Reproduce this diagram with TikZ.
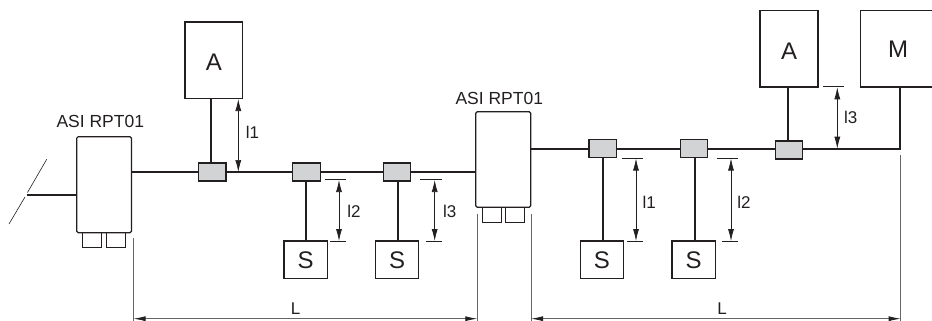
\documentclass[tikz,border=0pt]{standalone}
\usepackage{fontspec}
\setmainfont{Liberation Sans}
\usetikzlibrary{arrows.meta}
\definecolor{ink}{HTML}{231F20}
\definecolor{conn}{HTML}{D1D3D4}
\definecolor{dimc}{HTML}{666666}
\tikzset{
  x=1pt,y=-1pt,
  every node/.style={inner sep=0pt,outer sep=0pt,text=ink},
  bus/.style={draw=ink,line width=2pt},
  devbox/.style={draw=ink,line width=1.2pt,fill=white},
  rpt/.style={draw=ink,line width=1.2pt,fill=white,rounded corners=1.5pt},
  portbox/.style={draw=ink,line width=1pt,fill=white,minimum width=19.2pt,minimum height=15.2pt,anchor=north west},
  tee/.style={draw=ink,line width=1.2pt,fill=conn,minimum width=27.5pt,minimum height=18pt,anchor=north west},
  tick/.style={draw=ink,line width=0.6pt},
  ext/.style={draw=dimc,line width=0.8pt},
  dimarrow/.style={draw=ink,line width=0.7pt,{Latex[length=12pt,width=6pt,color=ink]}-{Latex[length=12pt,width=6pt,color=ink]}},
  longdim/.style={draw=dimc,line width=0.8pt,{Latex[length=12pt,width=5pt,color=ink]}-{Latex[length=12pt,width=5pt,color=ink]}},
  big/.style={font=\fontsize{24}{24}\selectfont},
  mid/.style={font=\fontsize{17.5}{18}\selectfont},
  lab/.style={font=\fontsize{17}{18}\selectfont},
}
\begin{document}
\begin{tikzpicture}
\useasboundingbox (0,0) rectangle (932,321);
% repeaters and their ports
\node[portbox] (p1) at (82.7,232.7) {};
\node[portbox] (p2) at (106.7,232.7) {};
\node[portbox] (p3) at (482,207.3) {};
\node[portbox] (p4) at (505.7,207.3) {};
\node[rpt,minimum width=54.8pt,minimum height=96pt,anchor=north west] (rptA) at (76.7,136.7) {};
\node[rpt,minimum width=55pt,minimum height=95.6pt,anchor=north west] (rptB) at (475.7,111.7) {};
\node[mid] (nameA) at (100.3,121.7) {ASI RPT01};
\node[mid] (nameB) at (499.3,98.3) {ASI RPT01};
% tees
\node[tee] (t1) at (198.5,163) {};
\node[tee] (t2) at (292.7,163) {};
\node[tee] (t3) at (383.3,163) {};
\node[tee] (t4) at (589,139.7) {};
\node[tee] (t5) at (680.3,139.7) {};
\node[tee] (t6) at (775.3,141) {};
% devices
\node[devbox,big,text height=21.5pt,minimum width=57.7pt,minimum height=76.5pt] (a1) at (213.8,60.2) {A};
\node[devbox,big,text height=21.5pt,minimum width=58pt,minimum height=76.3pt] (a2) at (789,48.8) {A};
\node[devbox,big,minimum width=43.3pt,minimum height=37.7pt] (s1) at (305.7,259.9) {S};
\node[devbox,big,minimum width=43pt,minimum height=37.7pt] (s2) at (397.2,259.9) {S};
\node[devbox,big,minimum width=43pt,minimum height=37.7pt] (s3) at (601.8,259.9) {S};
\node[devbox,big,minimum width=43.3pt,minimum height=37.7pt] (s4) at (693.6,259.9) {S};
\node[devbox,big,minimum width=75pt,minimum height=76.3pt] (m) at (898.2,48.8) {M};
% free ends
\coordinate (feedL) at (26.7,194.7);
\coordinate (slashA) at (46.7,159.3);
\coordinate (slashB) at (27.5,192.5);
\coordinate (slashC) at (25,197);
\coordinate (slashD) at (9,224);
% buses
\draw[bus] (feedL) -- (rptA.west |- feedL);
\draw[bus] (rptA.east |- t1.west) -- (t1.west);
\draw[bus] (t1.east) -- (t2.west);
\draw[bus] (t2.east) -- (t3.west);
\draw[bus] (t3.east) -- (rptB.west |- t3.east);
\draw[bus] (rptB.east |- t4.west) -- (t4.west);
\draw[bus] (t4.east) -- (t5.west);
\draw[bus] (t5.east) -- (t6.west |- t5.east);
\draw[bus] (t6.east |- t5.east) -- ([xshift=1.8pt]m.south |- t5.east) -- ([xshift=1.8pt]m.south);
\draw[bus] ([xshift=-1.2pt]t1.north) -- ([xshift=-1.2pt]t1.north |- a1.south);
\draw[bus] (t2.south) -- (t2.south |- s1.north);
\draw[bus] ([xshift=1.3pt]t3.south) -- ([xshift=1.3pt]t3.south |- s2.north);
\draw[bus] (t4.south) -- (t4.south |- s3.north);
\draw[bus] ([xshift=.7pt]t5.south) -- ([xshift=.7pt]t5.south |- s4.north);
\draw[bus] ([xshift=-1pt]t6.north) -- ([xshift=-1pt]t6.north |- a2.south);
\draw[tick] (slashA) -- (slashB) (slashC) -- (slashD);
% dimension ticks
\draw[tick] (325,179.3) -- (345.7,179.3) (330,241.3) -- (345.7,241.3);
\draw[tick] (420.3,179.3) -- (441.7,179.3) (425.7,241.3) -- (441.7,241.3);
\draw[tick] (621.7,158) -- (643.3,158) (627,241) -- (643.3,241);
\draw[tick] (716.7,158) -- (737.7,158) (721.7,241) -- (737.7,241);
\draw[tick] (823.3,86.7) -- (844,86.7);
% dimension arrows
\coordinate (d1) at (238.3,99);
\coordinate (d2) at (339,180);
\coordinate (d3) at (434.7,180);
\coordinate (d4) at (636,158.5);
\coordinate (d5) at (731,158.5);
\coordinate (d6) at (837.3,87.3);
\draw[dimarrow] (d1) -- (d1 |- t1.east);
\draw[dimarrow] (d2) -- (d2 |- s1.north);
\draw[dimarrow] (d3) -- (d3 |- s2.north);
\draw[dimarrow] (d4) -- (d4 |- s3.north);
\draw[dimarrow] (d5) -- (d5 |- s4.north);
\draw[dimarrow] (d6) -- (d6 |- t5.east);
\node[lab] at (252.5,132) {l1};
\node[lab] at (354,211.7) {l2};
\node[lab] at (449.7,211.7) {l3};
\node[lab] at (649.3,202.7) {l1};
\node[lab] at (744,202.7) {l2};
\node[lab] at (850.7,117.7) {l3};
% extension lines and L dimensions
\coordinate (e1) at (133.5,238);
\coordinate (e2) at (477.3,214);
\coordinate (e3) at (531,214);
\coordinate (e4) at (900.7,155);
\coordinate (base) at (0,321);
\coordinate (dimy) at (0,318.7);
\draw[ext] (e1) -- (e1 |- base);
\draw[ext] (e2) -- (e2 |- base);
\draw[ext] (e3) -- (e3 |- base);
\draw[ext] (e4) -- (e4 |- base);
\draw[longdim] (e1 |- dimy) -- (e2 |- dimy);
\draw[longdim] (e3 |- dimy) -- (e4 |- dimy);
\node[lab] at (295.7,309) {L};
\node[lab] at (722,309) {L};
\end{tikzpicture}
\end{document}
